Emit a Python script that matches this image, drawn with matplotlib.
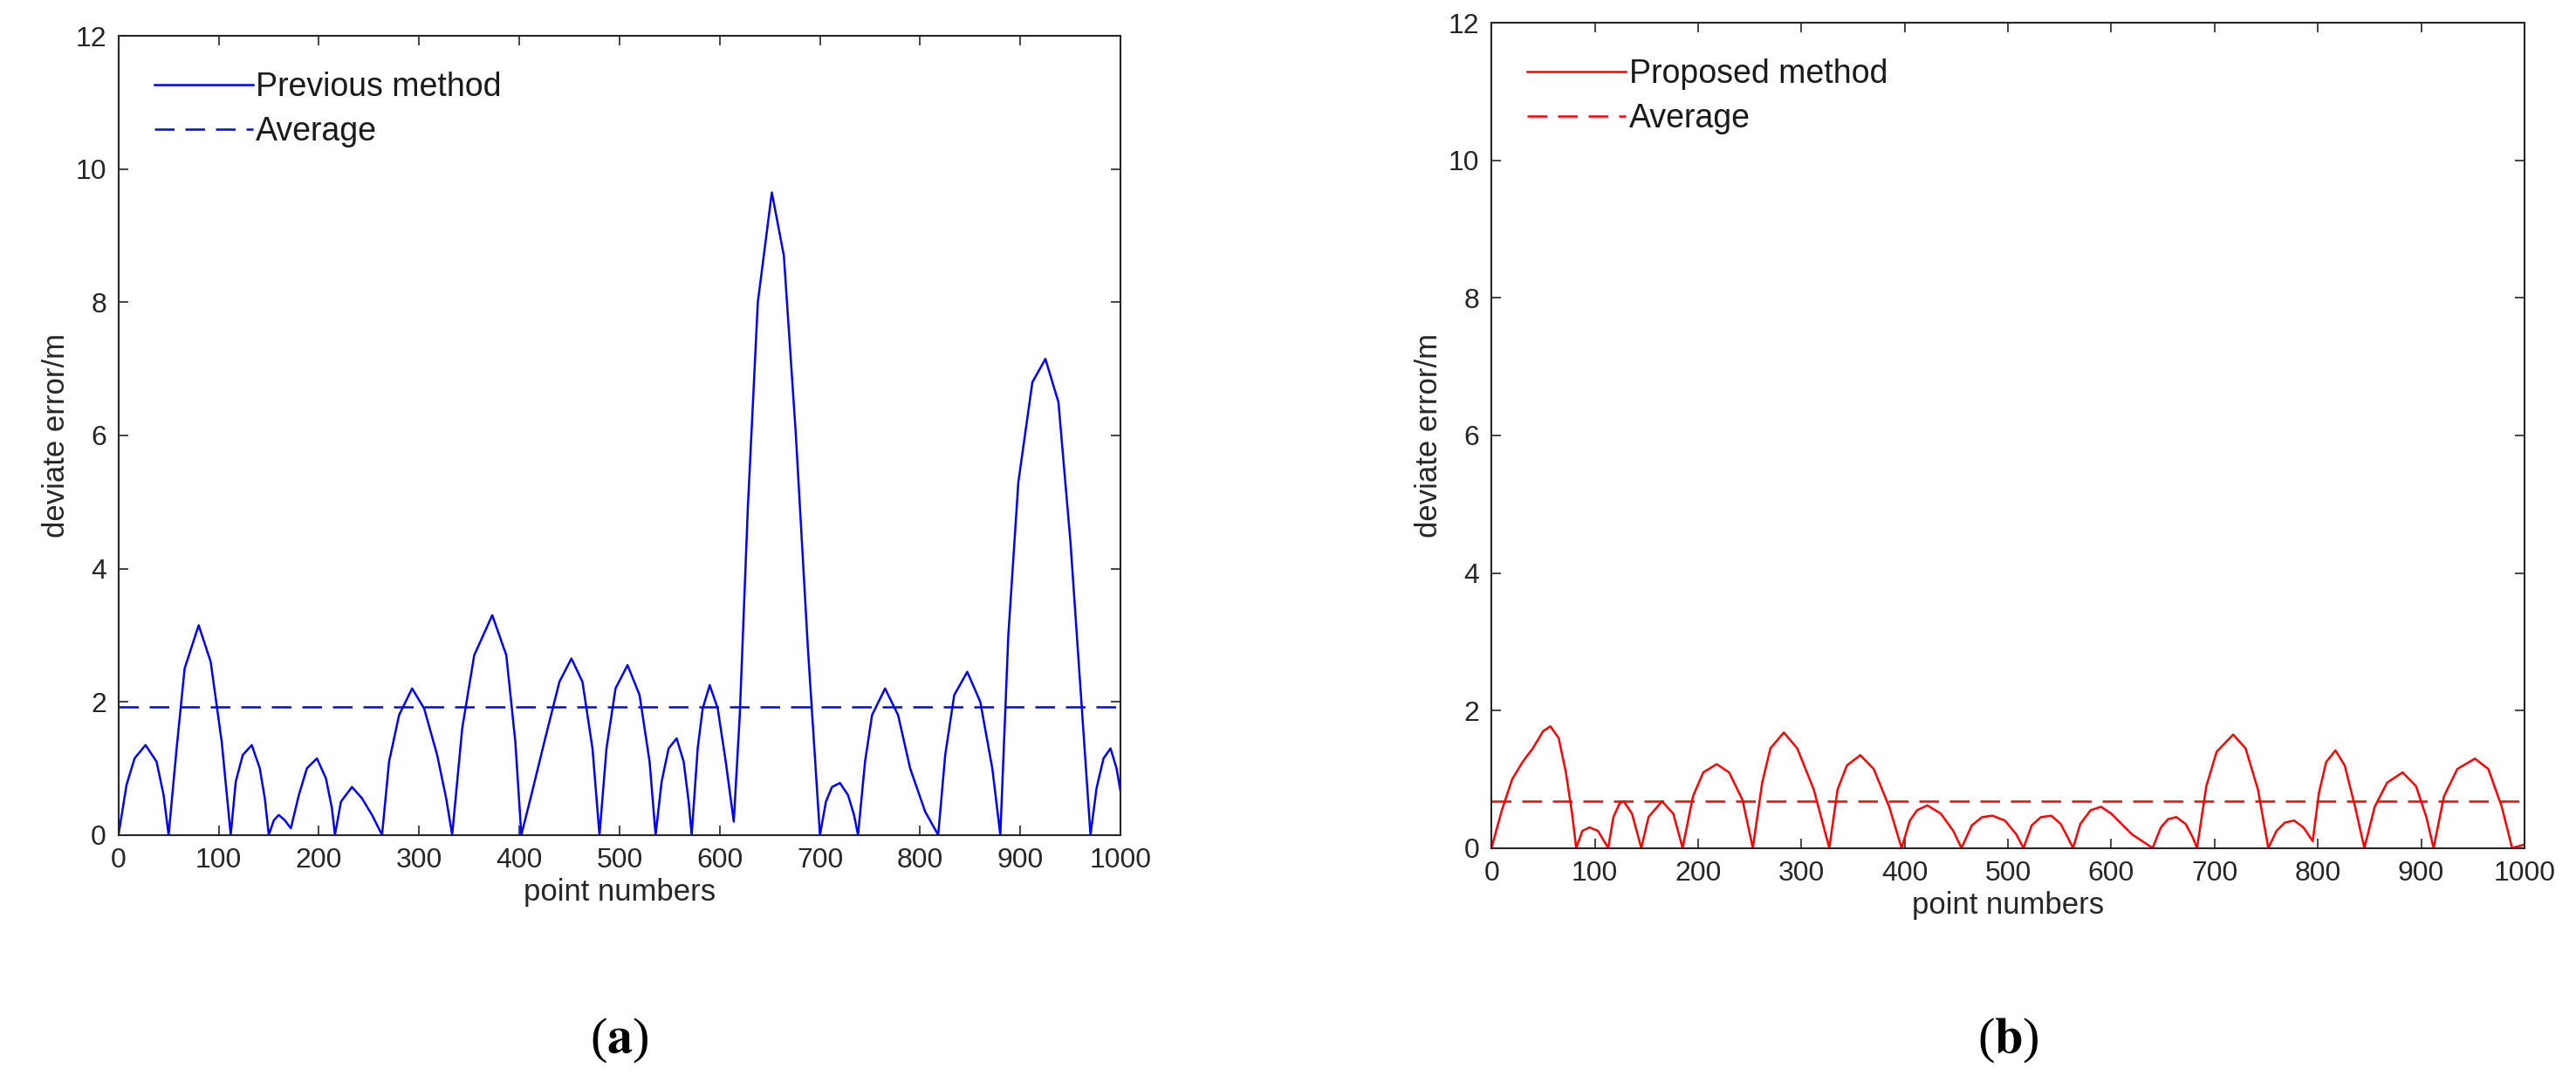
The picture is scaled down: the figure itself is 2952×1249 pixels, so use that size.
import matplotlib
matplotlib.use("Agg")
import matplotlib.pyplot as plt

plt.rcParams["font.family"] = ["Liberation Sans", "DejaVu Sans"]
plt.rcParams["mathtext.fontset"] = "stix"

# (a) previous method
prev_x = [0, 8, 16, 27, 38, 45, 50,
          58, 66, 80, 92, 103, 112,
          117, 124, 133, 141, 146, 150,
          155, 160, 166, 172,
          180, 188, 198, 207, 213, 216,
          222, 233, 243, 253, 263,
          270, 280, 293, 305, 318, 327, 333,
          343, 355, 373, 387, 396, 402,
          412, 425, 440, 452, 463, 473, 480,
          487, 496, 508, 520, 530, 536,
          542, 549, 557, 564, 569, 572,
          578, 583, 590, 598, 606, 614,
          620, 628, 638, 652, 664, 676, 688, 700,
          706, 712, 720, 728, 734, 738,
          745, 752, 765, 778, 790, 805, 818,
          825, 834, 847, 860, 872, 880,
          888, 898, 912, 925, 938, 950, 960, 970,
          976, 983, 990, 996, 1000]
prev_y = [0, 0.75, 1.15, 1.35, 1.1, 0.6, 0,
          1.3, 2.5, 3.15, 2.6, 1.4, 0,
          0.8, 1.2, 1.35, 1.0, 0.55, 0,
          0.22, 0.3, 0.22, 0.1,
          0.6, 1.0, 1.15, 0.85, 0.4, 0,
          0.5, 0.72, 0.55, 0.3, 0,
          1.1, 1.8, 2.2, 1.9, 1.2, 0.55, 0,
          1.6, 2.7, 3.3, 2.7, 1.4, 0,
          0.6, 1.4, 2.3, 2.65, 2.3, 1.3, 0,
          1.3, 2.2, 2.55, 2.1, 1.1, 0,
          0.8, 1.3, 1.45, 1.1, 0.5, 0,
          1.3, 1.9, 2.25, 1.9, 1.1, 0.2,
          1.8, 4.9, 8.0, 9.65, 8.7, 6.0, 2.8, 0,
          0.5, 0.72, 0.78, 0.6, 0.3, 0,
          1.1, 1.8, 2.2, 1.8, 1.0, 0.35, 0,
          1.2, 2.1, 2.45, 2.0, 1.0, 0,
          3.0, 5.3, 6.8, 7.15, 6.5, 4.4, 2.2, 0,
          0.7, 1.15, 1.3, 1.0, 0.65]
prev_avg = 1.92

# (b) proposed method
prop_x = [0, 10, 20, 30, 40, 50, 57, 65, 72, 78, 82,
          88, 95, 103, 113,
          118, 124, 128, 136, 145,
          152, 165, 176, 185,
          195, 205, 218, 230, 243, 253,
          262, 270, 283, 296, 312, 327,
          335, 344, 357, 370, 385, 397,
          405, 412, 422, 435, 447, 455,
          465, 475, 485, 497, 508, 515,
          523, 532, 542, 551, 558, 563,
          570, 580, 590, 600, 610, 620, 630, 640,
          648, 655, 663, 672, 679, 683,
          692, 702, 718, 730, 742, 752,
          760, 768, 777, 786, 795,
          801, 808, 817, 826, 836, 845,
          855, 867, 882, 895, 905, 912,
          922, 935, 952, 965, 978, 988, 1000]
prop_y = [0, 0.55, 1.0, 1.25, 1.45, 1.7, 1.77, 1.6, 1.1, 0.5, 0,
          0.25, 0.3, 0.25, 0,
          0.45, 0.65, 0.68, 0.5, 0,
          0.45, 0.68, 0.5, 0,
          0.75, 1.1, 1.22, 1.1, 0.7, 0,
          0.95, 1.45, 1.68, 1.45, 0.85, 0,
          0.85, 1.2, 1.35, 1.15, 0.6, 0,
          0.4, 0.55, 0.62, 0.5, 0.25, 0,
          0.33, 0.45, 0.47, 0.4, 0.2, 0,
          0.33, 0.45, 0.47, 0.35, 0.15, 0,
          0.35, 0.55, 0.6, 0.5, 0.35, 0.2, 0.1, 0,
          0.3, 0.42, 0.45, 0.35, 0.15, 0,
          0.9, 1.4, 1.65, 1.45, 0.85, 0,
          0.25, 0.37, 0.4, 0.3, 0.1,
          0.8, 1.25, 1.42, 1.2, 0.6, 0,
          0.6, 0.95, 1.1, 0.9, 0.45, 0,
          0.75, 1.15, 1.3, 1.15, 0.6, 0, 0.05]
prop_avg = 0.68

panels = [
    ([0.046, 0.234, 0.389, 0.733], prev_x, prev_y, prev_avg, "blue", "Previous method", "a"),
    ([0.579, 0.222, 0.401, 0.757], prop_x, prop_y, prop_avg, "red", "Proposed method", "b"),
]

fig = plt.figure(figsize=(29.52, 12.49), dpi=100)
tc = "#262626"
for rect, xs, ys, avg, color, name, tag in panels:
    ax = fig.add_axes(rect)
    ax.plot(xs, ys, color=color, lw=1.8, label=name)
    ax.axhline(avg, color=color, lw=1.8, ls=(0, (9, 5)), label="Average")
    ax.set_xlim(0, 1000)
    ax.set_ylim(0, 12)
    ax.set_xticks(range(0, 1001, 100))
    ax.set_yticks(range(0, 13, 2))
    ax.tick_params(direction="in", top=True, right=True, length=8, width=1.2,
                   labelsize=23, colors=tc, pad=10)
    for s in ax.spines.values():
        s.set_color(tc)
        s.set_linewidth(1.5)
    ax.set_xlabel("point numbers", fontsize=25, color=tc)
    ax.set_ylabel("deviate error/m", fontsize=25, color=tc)
    leg = ax.legend(loc="upper left", frameon=False, fontsize=27,
                    handlelength=3.0, handletextpad=0.1, borderaxespad=0.7,
                    labelspacing=0.4)
    for t in leg.get_texts():
        t.set_color("#1a1a1a")
    cx = rect[0] + rect[2] / 2
    fig.text(cx, 0.045, r"($\mathbf{%s}$)" % tag, ha="center", va="center",
             fontsize=42, family="Liberation Serif")

fig.savefig("out.png", dpi=100)
